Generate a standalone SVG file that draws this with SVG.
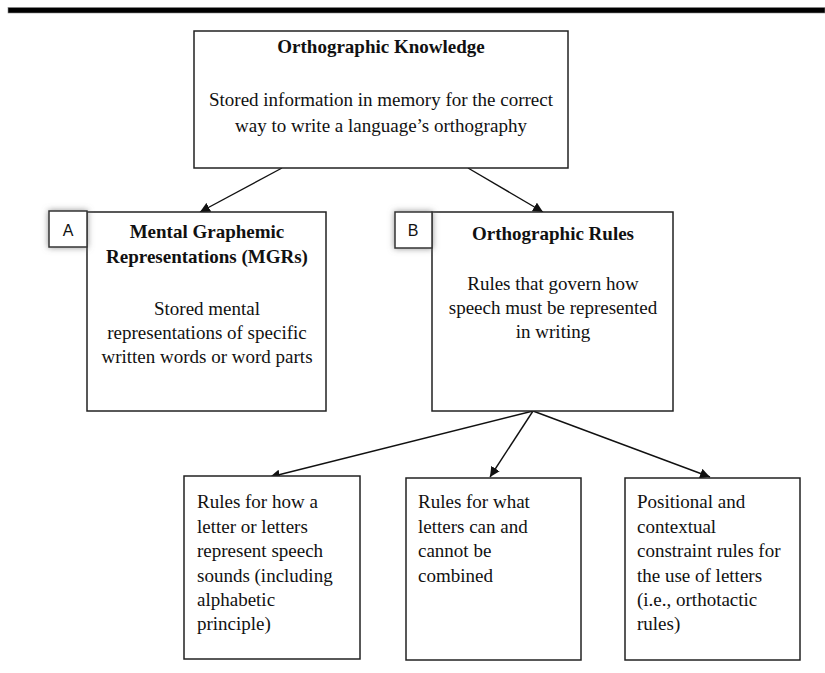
<svg xmlns="http://www.w3.org/2000/svg" width="825" height="673" viewBox="0 0 825 673">
<style>
.box{fill:#fff;stroke:#222;stroke-width:1.5}
.lbl{fill:#fff;stroke:#333;stroke-width:1.5}
.t{font-family:"Liberation Serif","Times New Roman",serif;font-size:19px;fill:#111}
.b{font-weight:bold}
.c{text-anchor:middle}
.s{font-family:"Liberation Sans",Arial,sans-serif;font-size:16px;fill:#111;text-anchor:middle}
.ln{stroke:#111;stroke-width:1.4;fill:none;marker-end:url(#ah)}
</style>
<defs>
<marker id="ah" viewBox="0 0 10 10" refX="10" refY="5" markerWidth="10" markerHeight="10" markerUnits="userSpaceOnUse" orient="auto">
<path d="M0,0 L10,5 L0,10 z" fill="#111"/>
</marker>
<filter id="sh" x="-40%" y="-40%" width="180%" height="180%">
<feDropShadow dx="0" dy="0" stdDeviation="3" flood-color="#777" flood-opacity="0.8"/>
</filter>
</defs>
<rect x="8" y="7.5" width="817" height="5.5" fill="#000" stroke="#888" stroke-width="0.6"/>
<g id="connectors">
<line class="ln" x1="282" y1="168" x2="200" y2="212"/>
<line class="ln" x1="468" y1="168" x2="543" y2="212"/>
<line class="ln" x1="533" y1="411" x2="270" y2="477"/>
<line class="ln" x1="533" y1="411" x2="490" y2="477"/>
<line class="ln" x1="533" y1="411" x2="710" y2="477"/>
</g>
<g id="knowledge">
<rect class="box" x="194" y="31" width="374" height="137"/>
<text class="t b c" x="381" y="53">Orthographic Knowledge</text>
<text class="t c" x="381" y="106">Stored information in memory for the correct</text>
<text class="t c" x="381" y="132">way to write a language’s orthography</text>
</g>
<g id="mgr">
<rect class="box" x="87" y="212" width="239" height="199"/>
<text class="t b c" x="207" y="238">Mental Graphemic</text>
<text class="t b c" x="207" y="263">Representations (MGRs)</text>
<text class="t c" x="207" y="315">Stored mental</text>
<text class="t c" x="207" y="339">representations of specific</text>
<text class="t c" x="207" y="363">written words or word parts</text>
</g>
<g id="labelA">
<rect class="lbl" x="49" y="211" width="38" height="36" filter="url(#sh)"/>
<text class="s" x="68" y="236">A</text>
</g>
<g id="rules">
<rect class="box" x="432" y="212" width="241" height="199"/>
<text class="t b c" x="553" y="240">Orthographic Rules</text>
<text class="t c" x="553" y="290">Rules that govern how</text>
<text class="t c" x="553" y="314">speech must be represented</text>
<text class="t c" x="553" y="338">in writing</text>
</g>
<g id="labelB">
<rect class="lbl" x="395" y="212" width="37" height="36" filter="url(#sh)"/>
<text class="s" x="413" y="236">B</text>
</g>
<g id="sound">
<rect class="box" x="184" y="476" width="176" height="183"/>
<text class="t" x="197" y="508">Rules for how a</text>
<text class="t" x="197" y="533">letter or letters</text>
<text class="t" x="197" y="557">represent speech</text>
<text class="t" x="197" y="582">sounds (including</text>
<text class="t" x="197" y="606">alphabetic</text>
<text class="t" x="197" y="630">principle)</text>
</g>
<g id="combine">
<rect class="box" x="406" y="478" width="175" height="182"/>
<text class="t" x="418" y="508">Rules for what</text>
<text class="t" x="418" y="533">letters can and</text>
<text class="t" x="418" y="557">cannot be</text>
<text class="t" x="418" y="582">combined</text>
</g>
<g id="position">
<rect class="box" x="625" y="478" width="175" height="182"/>
<text class="t" x="637" y="508">Positional and</text>
<text class="t" x="637" y="533">contextual</text>
<text class="t" x="637" y="557">constraint rules for</text>
<text class="t" x="637" y="582">the use of letters</text>
<text class="t" x="637" y="606">(i.e., orthotactic</text>
<text class="t" x="637" y="630">rules)</text>
</g>
</svg>
